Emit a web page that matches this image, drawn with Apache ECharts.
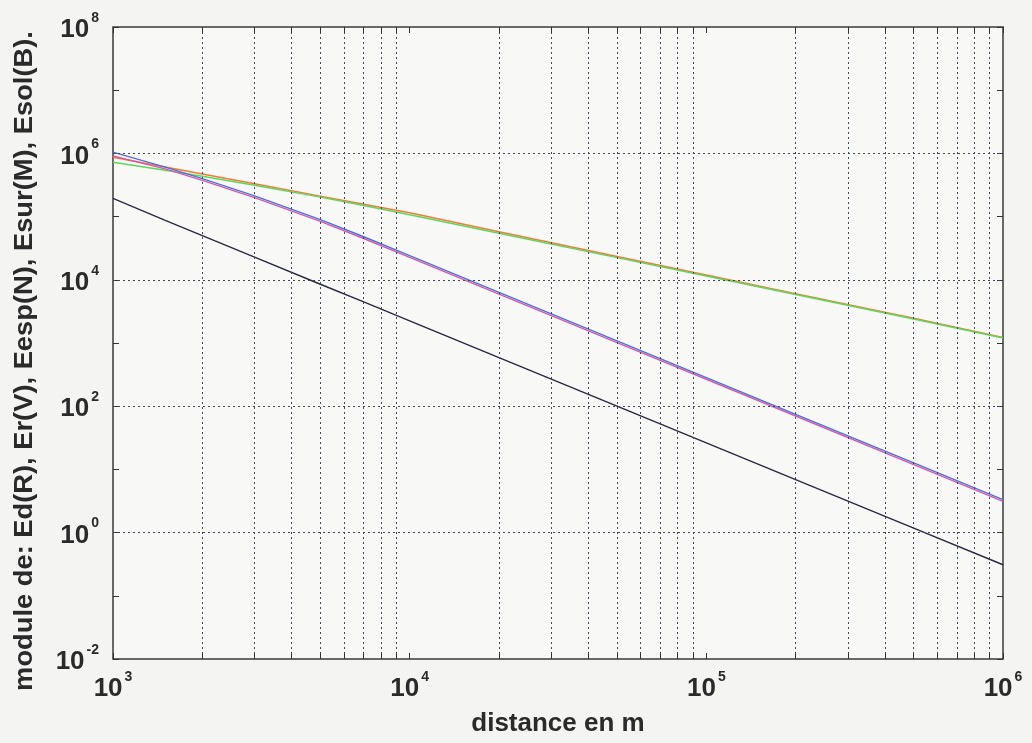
<!DOCTYPE html>
<html><head><meta charset="utf-8">
<script src="https://cdn.jsdelivr.net/npm/echarts@6/dist/echarts.min.js"></script>
<style>html,body{margin:0;padding:0;background:#f4f4f2}#c{width:1032px;height:743px}</style>
</head><body><div id="c"></div>
<script>
// distances (m)
const distances = [1000,1500,2000,3000,5000,7000,10000,20000,50000,100000,200000,500000,1000000];
// field modules
const Ed_R   = [8.71e5,6.10e5,4.73e5,3.31e5,2.11e5,1.57e5,1.15e5,5.75e4,2.34e4,1.19e4,6.03e3,2.48e3,1.23e3];
const Er_V   = [7.24e5,5.41e5,4.35e5,3.14e5,2.03e5,1.50e5,1.07e5,5.46e4,2.24e4,1.15e4,5.85e3,2.40e3,1.20e3];
const Eesp_N = [1.95e5,8.7e4,5.0e4,2.29e4,8.5e3,4.46e3,2.24e3,588,100,26.3,6.9,1.18,0.31];
const Esur_M = [9.1e5,5.7e5,3.75e5,2.0e5,8.4e4,4.5e4,2.27e4,5.95e3,1.01e3,267,70,11.9,3.12];
const Esol_B = [1.05e6,6.05e5,3.99e5,2.13e5,8.93e4,4.80e4,2.42e4,6.34e3,1.08e3,284,74.5,12.7,3.33];
// axis tick labels (exponents of 10)
const xLabelExponents = [3,4,5,6];
const yLabelExponents = [-2,0,2,4,6,8];
// grid values
const xMinorGrid = [2e3,3e3,4e3,5e3,6e3,7e3,8e3,9e3,2e4,3e4,4e4,5e4,6e4,7e4,8e4,9e4,2e5,3e5,4e5,5e5,6e5,7e5,8e5,9e5];
const yMajorGrid = [1e0,1e2,1e4,1e6];
const xTitle = 'distance en m';
const yTitle = 'module de: Ed(R), Er(V), Eesp(N), Esur(M), Esol(B).';

const X_MIN = 1e3, X_MAX = 1e6, Y_MIN = 1e-2, Y_MAX = 1e8;
const FONT = '"Liberation Sans", Arial, Helvetica, sans-serif';

function expLabel(list) {
  return function (v) {
    const e = Math.round(Math.log10(v));
    return list.indexOf(e) >= 0 ? '{b|10}{s|' + e + '}' : '';
  };
}
const richLabel = {
  b: { fontSize: 26, fontWeight: 'bold', fontFamily: FONT, color: '#2a2a2a', lineHeight: 32, verticalAlign: 'bottom' },
  s: { fontSize: 14, fontWeight: 'bold', fontFamily: FONT, color: '#2a2a2a', lineHeight: 32, verticalAlign: 'top', padding: [0, 0, 0, 2] }
};
const pairs = arr => distances.map((d, i) => [d, arr[i]]);

const dotted = { color: '#44445a', width: 1, type: [2, 3] };
const tickStyle = { color: '#333', width: 1, type: 'solid' };

const tickSegs = [];
xMinorGrid.forEach(x => {
  tickSegs.push([{ coord: [x, Y_MIN] }, { coord: [x, Y_MIN * 1.25] }]);
  tickSegs.push([{ coord: [x, Y_MAX] }, { coord: [x, Y_MAX / 1.25] }]);
});

const chart = echarts.init(document.getElementById('c'));
chart.setOption({
  backgroundColor: '#f4f4f2',
  animation: false,
  grid: { left: 113, right: 29, top: 27, bottom: 84, show: true, backgroundColor: '#f8f8f7', borderColor: '#3a3a3a', borderWidth: 1.5 },
  xAxis: [
    { type: 'log', logBase: 10, min: X_MIN, max: X_MAX, interval: 1, position: 'bottom',
      axisLine: { show: false }, splitLine: { show: false },
      axisTick: { show: true, inside: true, length: 6, lineStyle: { color: '#333' } },
      axisLabel: { margin: 11, formatter: expLabel(xLabelExponents), rich: richLabel } },
    { type: 'log', logBase: 10, min: X_MIN, max: X_MAX, interval: 1, position: 'top',
      axisLine: { show: false }, splitLine: { show: false }, axisLabel: { show: false },
      axisTick: { show: true, inside: true, length: 6, lineStyle: { color: '#333' } } }
  ],
  yAxis: [
    { type: 'log', logBase: 10, min: Y_MIN, max: Y_MAX, interval: 1, position: 'left',
      axisLine: { show: false }, splitLine: { show: false },
      axisTick: { show: true, inside: true, length: 6, lineStyle: { color: '#333' } },
      axisLabel: { margin: 14, formatter: expLabel(yLabelExponents), rich: richLabel } },
    { type: 'log', logBase: 10, min: Y_MIN, max: Y_MAX, interval: 1, position: 'right',
      axisLine: { show: false }, splitLine: { show: false }, axisLabel: { show: false },
      axisTick: { show: true, inside: true, length: 6, lineStyle: { color: '#333' } } }
  ],
  series: [
    { type: 'line', data: [], silent: true,
      markLine: { silent: true, symbol: ['none', 'none'], label: { show: false }, lineStyle: dotted, animation: false,
        data: xMinorGrid.map(x => ({ xAxis: x })).concat(yMajorGrid.map(y => ({ yAxis: y }))) } },
    { type: 'line', data: [], silent: true,
      markLine: { silent: true, symbol: ['none', 'none'], label: { show: false }, lineStyle: tickStyle, animation: false,
        data: tickSegs } },
    { name: 'Ed(R)', type: 'line', data: pairs(Ed_R), showSymbol: false, lineStyle: { color: '#ee7b3a', width: 1.4 } },
    { name: 'Er(V)', type: 'line', data: pairs(Er_V), showSymbol: false, lineStyle: { color: '#5ed65a', width: 1.4 } },
    { name: 'Esur(M)', type: 'line', data: pairs(Esur_M), showSymbol: false, lineStyle: { color: '#d65aa8', width: 1.4 } },
    { name: 'Esol(B)', type: 'line', data: pairs(Esol_B), showSymbol: false, lineStyle: { color: '#5070d8', width: 1.4 } },
    { name: 'Eesp(N)', type: 'line', data: pairs(Eesp_N), showSymbol: false, lineStyle: { color: '#2a2a3c', width: 1.4 } }
  ],
  graphic: [
    { type: 'text', x: 558, y: 724, style: { text: xTitle, font: 'bold 26px ' + FONT, fill: '#2a2a2a', align: 'center', verticalAlign: 'middle' } },
    { type: 'text', x: 25, y: 361, rotation: Math.PI / 2, scaleX: 1.05,
      style: { text: yTitle, font: 'bold 26px ' + FONT, fill: '#2a2a2a', align: 'center', verticalAlign: 'middle' } }
  ]
});
</script>
</body></html>
